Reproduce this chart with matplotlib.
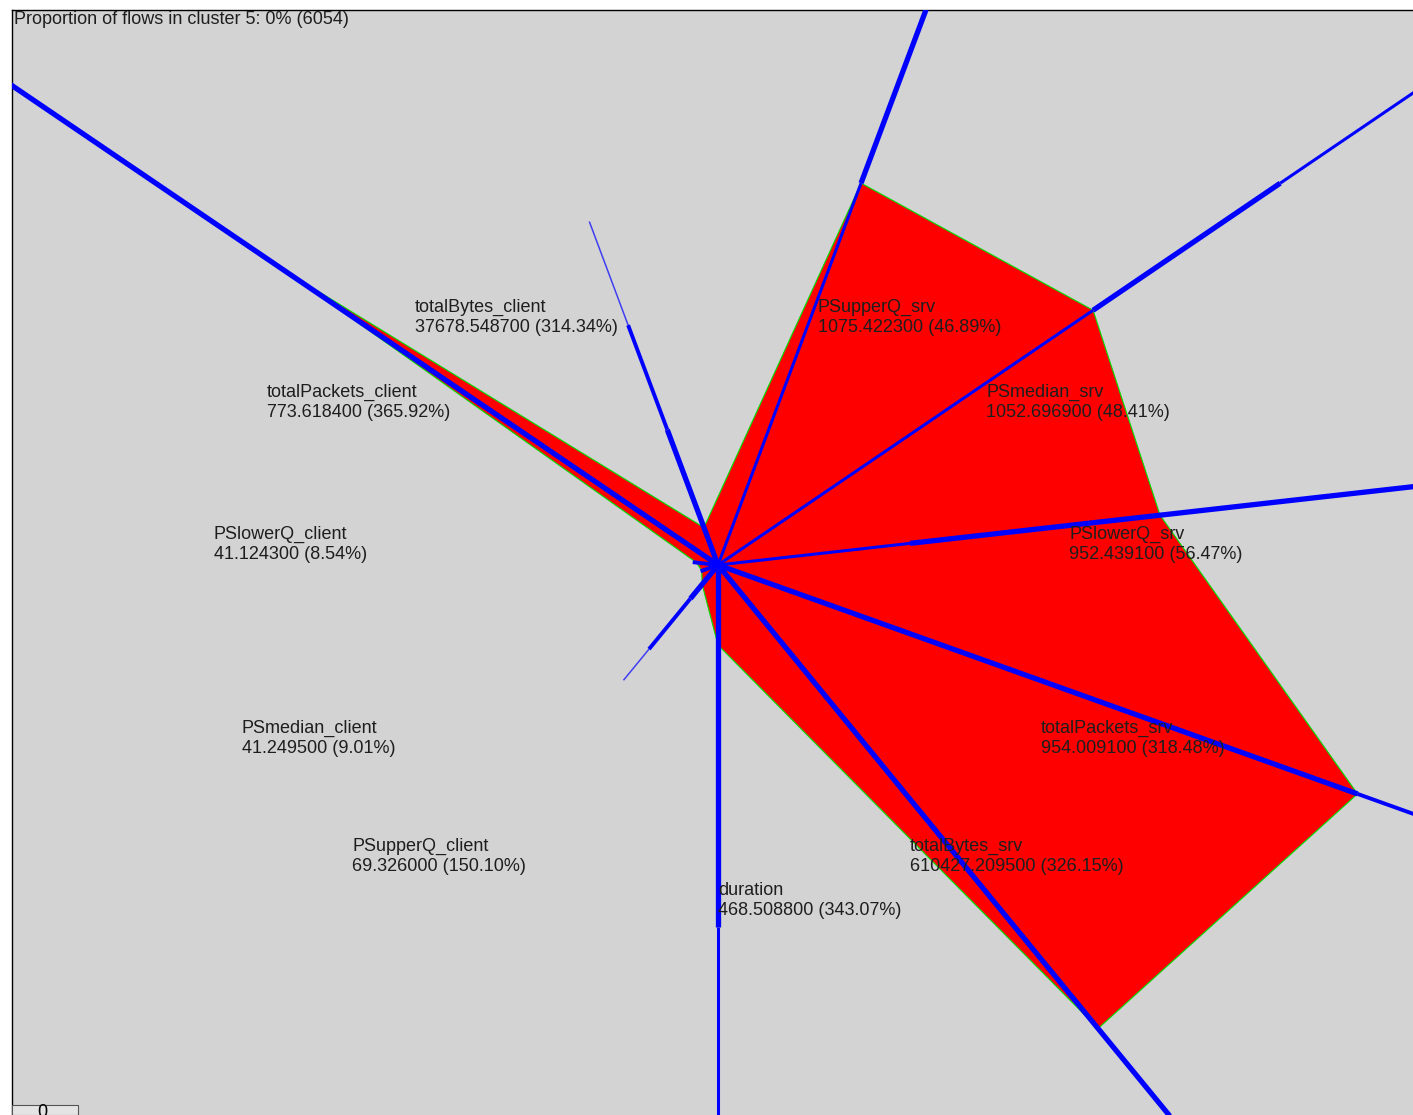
import numpy as np
import matplotlib
matplotlib.use("Agg")
import matplotlib.pyplot as plt
from matplotlib.patches import Rectangle

plt.rcParams["font.family"] = ["Liberation Sans", "DejaVu Sans"]

# cluster 5 profile, one entry per feature (axis order: duration at the bottom, then counter-clockwise)
features = ["duration", "totalBytes_srv", "totalPackets_srv", "PSlowerQ_srv", "PSmedian_srv",
            "PSupperQ_srv", "totalBytes_client", "totalPackets_client", "PSlowerQ_client",
            "PSmedian_client", "PSupperQ_client"]
means = ["468.508800", "610427.209500", "954.009100", "952.439100", "1052.696900", "1075.422300",
         "37678.548700", "773.618400", "41.124300", "41.249500", "69.326000"]
pcts = [343.07, 326.15, 318.48, 56.47, 48.41, 46.89, 314.34, 365.92, 8.54, 9.01, 150.10]
# polygon radius on each axis (drawing units)
radius = [80, 551, 551, 350, 389, 398, 39, 450, 17, 14, 23]
# axis bars: (start, end, level) per feature, level 0 = thin, 1 = medium, 2 = thick
bars = [
    [(0, 362, 2), (362, 800, 0)],
    [(0, 900, 2)],
    [(0, 551, 2), (551, 800, 1)],
    [(0, 152, 0), (152, 800, 2)],
    [(0, 389, 0), (389, 583, 2), (583, 900, 0)],
    [(0, 398, 0), (398, 800, 2)],
    [(0, 141, 2), (141, 250, 1), (250, 358, -1)],
    [(0, 1000, 2)],
    [(0, 20, 1)],
    [(0, 15, 1)],
    [(0, 40, 2), (40, 100, 1), (100, 137, -1)],
]
title = "Proportion of flows in cluster 5: 0% (6054)"

n = len(features)
theta = -np.pi / 2 + 2 * np.pi * np.arange(n) / n
widths = {-1: 1.1, 0: 2.2, 1: 2.8, 2: 3.8}
alphas = {-1: 0.7, 0: 1.0, 1: 1.0, 2: 1.0}

fig = plt.figure(figsize=(14.13, 11.15), dpi=100)
ax = fig.add_axes([12 / 1413, 0, 1401 / 1413, 1105 / 1115])
ax.set_facecolor("#d3d3d3")
ax.set_xlim(-553.3, 544.7)
ax.set_ylim(-550, 555)
ax.set_xticks([])
ax.set_yticks([])
for side in ["right", "bottom"]:
    ax.spines[side].set_visible(False)
for side in ["left", "top"]:
    ax.spines[side].set_linewidth(1.0)

r = np.array(radius, dtype=float)
px = r * np.cos(theta)
py = r * np.sin(theta)
ax.fill(px, py, facecolor="#ff0000", edgecolor="#00e000", linewidth=0.8, zorder=2)

for k in range(n):
    c, s = np.cos(theta[k]), np.sin(theta[k])
    for a, b, lev in bars[k]:
        ax.plot([a * c, b * c], [a * s, b * s], color="#0000ff", linewidth=widths[lev],
                alpha=alphas[lev], solid_capstyle="butt", zorder=3)

for k in range(n):
    c, s = np.cos(theta[k]), np.sin(theta[k])
    lx = 278 * c
    ly = 277 * s - (40 if s < -1e-9 else 0)
    ha = "left" if c > -1e-9 else "right"
    txt = "%s\n%s (%.2f%%)" % (features[k], means[k], pcts[k])
    ax.text(lx, ly, txt, ha=ha, va="top", multialignment="left", fontsize=13,
            color="#1e1e1e", linespacing=1.22, zorder=4)

ax.text(0.0015, 0.999, title, transform=ax.transAxes, ha="left", va="top", fontsize=13,
        color="#1e1e1e", zorder=5)

fig.patches.append(Rectangle((12 / 1413, 0), 66 / 1413, 10 / 1115, transform=fig.transFigure,
                             facecolor="#e4e4e4", edgecolor="#555555", linewidth=0.8))
fig.text(42 / 1413, -6 / 1115, "0", fontsize=13, ha="center", va="bottom")

fig.savefig("out.png", dpi=100)
